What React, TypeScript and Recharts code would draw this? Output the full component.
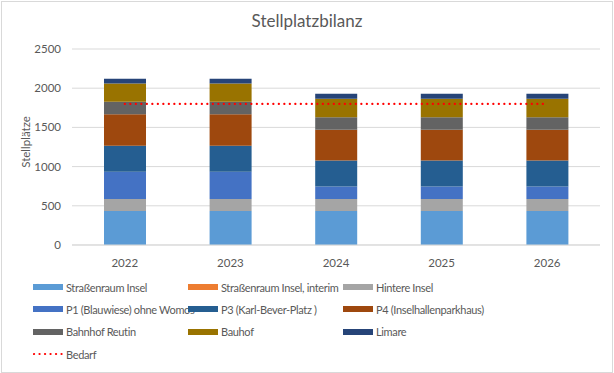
import React from "react";
import { ComposedChart, Bar, Line, XAxis, YAxis, CartesianGrid } from "recharts";

// Jahre
const years = ["2022", "2023", "2024", "2025", "2026"];

// Stellplätze je Standort
const strassenraumInsel = [435, 435, 435, 435, 435];
const strassenraumInterim = [0, 0, 0, 0, 0];
const hintereInsel = [153, 153, 153, 153, 153];
const p1Blauwiese = [345, 345, 157, 157, 157];
const p3KarlBever = [332, 332, 333, 333, 333];
const p4Inselhalle = [404, 404, 391, 391, 391];
const bahnhofReutin = [158, 158, 162, 162, 162];
const bauhof = [234, 234, 234, 234, 234];
const limare = [60, 60, 64, 64, 64];
const bedarf = [1800, 1800, 1800, 1800, 1800];

const yTicks = [0, 500, 1000, 1500, 2000, 2500];

const series = [
  { key: "strassenraum", name: "Straßenraum Insel", color: "#5B9BD5", values: strassenraumInsel },
  { key: "interim", name: "Straßenraum Insel, interim", color: "#ED7D31", values: strassenraumInterim },
  { key: "hintere", name: "Hintere Insel", color: "#A5A5A5", values: hintereInsel },
  { key: "p1", name: "P1 (Blauwiese) ohne Womos", color: "#4472C4", values: p1Blauwiese },
  { key: "p3", name: "P3 (Karl-Bever-Platz )", color: "#255E91", values: p3KarlBever },
  { key: "p4", name: "P4 (Inselhallenparkhaus)", color: "#9E480E", values: p4Inselhalle },
  { key: "bahnhof", name: "Bahnhof Reutin", color: "#636363", values: bahnhofReutin },
  { key: "bauhof", name: "Bauhof", color: "#997300", values: bauhof },
  { key: "limare", name: "Limare", color: "#264478", values: limare },
];

const data = years.map((year, i) => {
  const row: Record<string, any> = { year, bedarf: bedarf[i] };
  series.forEach((s) => {
    row[s.key] = s.values[i];
  });
  return row;
});

const FONT = "Lato, sans-serif";
const TEXT = "#595959";

const colX = [33, 188, 343];

function LegendBox() {
  const items = [
    ...series.map((s) => ({ name: s.name, color: s.color, line: false })),
    { name: "Bedarf", color: "#FF0000", line: true },
  ];
  return (
    <div style={{ position: "absolute", left: 0, top: 279, width: 614, height: 90 }}>
      {items.map((it, i) => {
        const col = i % 3;
        const row = Math.floor(i / 3);
        const top = row * 22.4;
        return (
          <div
            key={it.name}
            style={{ position: "absolute", left: colX[col], top, height: 16, display: "flex", alignItems: "center" }}
          >
            {it.line ? (
              <svg width={30} height={6} style={{ display: "block" }}>
                <line x1={1} y1={3} x2={29} y2={3} stroke="#FF0000" strokeWidth={2.2} strokeDasharray="0.1 5.4" strokeLinecap="round" />
              </svg>
            ) : (
              <div style={{ width: 30, height: 6, background: it.color }} />
            )}
            <span
              style={{
                marginLeft: 3,
                fontSize: 11,
                letterSpacing: -0.35,
                color: TEXT,
                fontFamily: FONT,
                whiteSpace: "nowrap",
              }}
            >
              {it.name}
            </span>
          </div>
        );
      })}
    </div>
  );
}

export default function App() {
  return (
    <div style={{ position: "absolute", left: 0, top: 0, width: 614, height: 373, background: "#fff" }}>
      <div
        style={{
          position: "absolute",
          left: 1,
          top: 1,
          width: 610,
          height: 370,
          border: "1px solid #D9D9D9",
        }}
      />
      <ComposedChart
        width={614}
        height={373}
        data={data}
        barCategoryGap={0}
        margin={{ top: 49, right: 14, left: 0, bottom: 98 }}
        style={{ position: "absolute", left: 0, top: 0 }}
      >
        <CartesianGrid vertical={false} stroke="#D9D9D9" strokeWidth={1} />
        <XAxis
          dataKey="year"
          height={30}
          tickLine={false}
          axisLine={{ stroke: "#D9D9D9" }}
          tick={{ fill: TEXT, fontSize: 11.5, fontFamily: FONT }}
          tickMargin={8}
        />
        <YAxis
          width={72}
          domain={[0, 2500]}
          ticks={yTicks}
          tickLine={false}
          axisLine={false}
          tickSize={0}
          tickMargin={11}
          tick={{ fill: TEXT, fontSize: 11.5, fontFamily: FONT }}
        />
        {series.map((s) => (
          <Bar key={s.key} dataKey={s.key} name={s.name} stackId="a" fill={s.color} barSize={42} isAnimationActive={false} />
        ))}
        <Line
          dataKey="bedarf"
          name="Bedarf"
          stroke="#FF0000"
          strokeWidth={2.2}
          strokeDasharray="0.1 5.4"
          strokeLinecap="round"
          dot={false}
          activeDot={false}
          type="linear"
          isAnimationActive={false}
        />
      </ComposedChart>
      <div
        style={{
          position: "absolute",
          left: 0,
          top: 10,
          width: 614,
          textAlign: "center",
          fontSize: 17,
          color: TEXT,
          fontFamily: FONT,
        }}
      >
        Stellplatzbilanz
      </div>
      <div
        style={{
          position: "absolute",
          left: 25,
          top: 142,
          transform: "translate(-50%, -50%) rotate(-90deg)",
          fontSize: 11.5,
          color: TEXT,
          fontFamily: FONT,
          whiteSpace: "nowrap",
        }}
      >
        Stellplätze
      </div>
      <LegendBox />
    </div>
  );
}
